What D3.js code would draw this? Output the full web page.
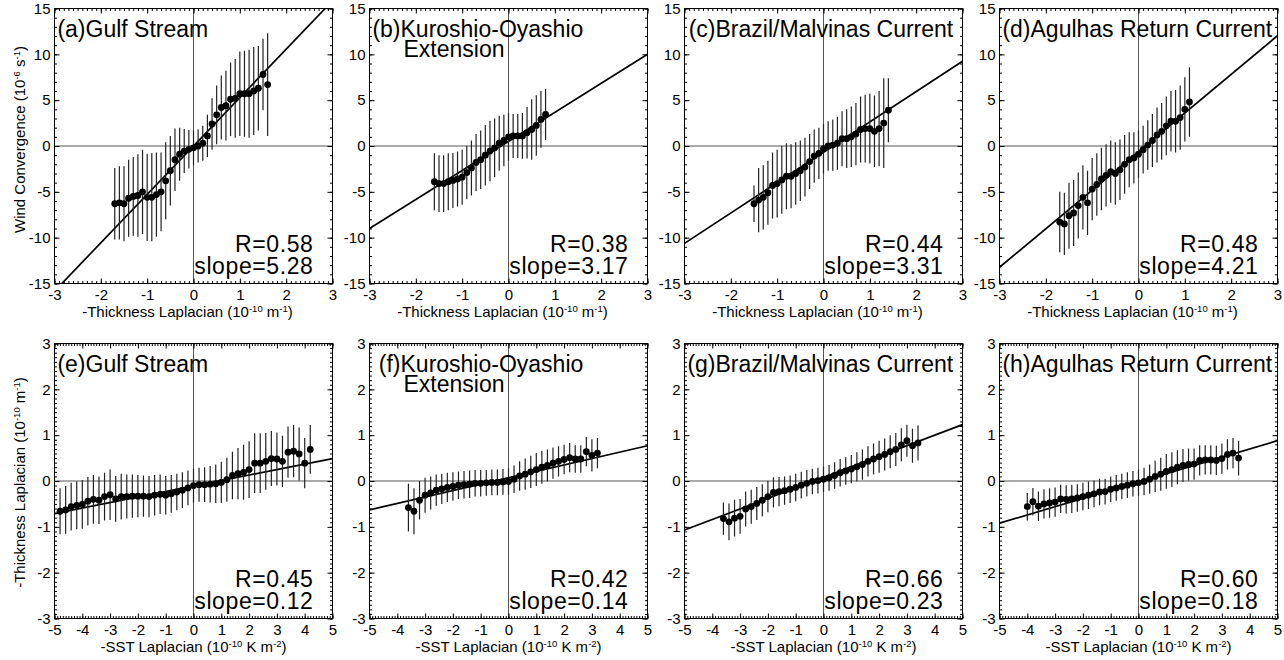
<!DOCTYPE html>
<html>
<head>
<meta charset="utf-8">
<script src="https://cdn.jsdelivr.net/npm/d3@7"></script>
<style>
  body { margin: 0; background: #fff; }
  svg text { font-family: "Liberation Sans", Arial, Helvetica, sans-serif; fill: #000; }
</style>
</head>
<body>
<svg id="chart" width="1284" height="660"></svg>
<script>
// tick labels
var xTicksTop = [-3, -2, -1, 0, 1, 2, 3];
var yTicksTop = [-15, -10, -5, 0, 5, 10, 15];
var xTicksBottom = [-5, -4, -3, -2, -1, 0, 1, 2, 3, 4, 5];
var yTicksBottom = [-3, -2, -1, 0, 1, 2, 3];

// panel text
var panelLetters = ["(a)", "(b)", "(c)", "(d)", "(e)", "(f)", "(g)", "(h)"];
var currentNames = ["Gulf Stream", "Kuroshio-Oyashio", "Brazil/Malvinas Current", "Agulhas Return Current"];
var rValues = ["0.58", "0.38", "0.44", "0.48", "0.45", "0.42", "0.66", "0.60"];
var slopeValues = ["5.28", "3.17", "3.31", "4.21", "0.12", "0.14", "0.23", "0.18"];
var fitIntercepts = [0.0, 0.5, -0.69, -0.6, -0.11, 0.07, 0.08, -0.02];

// top row: wind convergence vs -thickness laplacian
var thickA = [-1.7,-1.6,-1.5,-1.4,-1.3,-1.2,-1.1,-1.0,-0.9,-0.8,-0.7,-0.6,-0.5,-0.4,-0.3,-0.2,-0.1,0.0,0.1,0.2,0.3,0.4,0.5,0.6,0.7,0.8,0.9,1.0,1.1,1.2,1.3,1.4,1.5,1.6];
var convA = [-6.3,-6.2,-6.3,-5.7,-5.5,-5.4,-5.0,-5.6,-5.6,-5.3,-5.0,-3.8,-2.7,-1.5,-0.9,-0.55,-0.36,-0.2,0.0,0.3,1.1,2.4,3.4,4.2,4.4,5.1,5.2,5.7,5.7,5.7,6.0,6.3,7.8,6.7];
var errA = [3.9,4.0,4.1,4.2,4.3,4.5,4.6,4.75,4.8,4.6,4.3,4.2,3.8,3.4,2.9,2.4,2.1,1.9,1.8,1.9,2.3,2.8,3.2,3.5,3.8,4.0,4.3,4.6,4.7,4.8,4.8,4.6,3.9,5.6];

var thickB = [-1.6,-1.5,-1.4,-1.3,-1.2,-1.1,-1.0,-0.9,-0.8,-0.7,-0.6,-0.5,-0.4,-0.3,-0.2,-0.1,0.0,0.1,0.2,0.3,0.4,0.5,0.6,0.7,0.8];
var convB = [-3.9,-4.1,-4.1,-3.9,-3.75,-3.6,-3.4,-2.9,-2.4,-1.8,-1.5,-1.0,-0.55,-0.2,0.3,0.6,1.0,1.1,1.1,1.1,1.45,1.8,2.25,2.9,3.45];
var errB = [3.1,3.1,3.1,3.1,3.0,3.0,3.0,2.9,3.0,3.1,3.2,3.3,3.3,3.2,3.0,2.8,2.6,2.4,2.4,2.5,2.8,3.3,3.3,3.1,2.8];

var thickC = [-1.5,-1.4,-1.3,-1.2,-1.1,-1.0,-0.9,-0.8,-0.7,-0.6,-0.5,-0.4,-0.3,-0.2,-0.1,0.0,0.1,0.2,0.3,0.4,0.5,0.6,0.7,0.8,0.9,1.0,1.1,1.2,1.3,1.4];
var convC = [-6.3,-5.9,-5.6,-5.1,-4.3,-4.1,-3.7,-3.3,-3.3,-3.0,-2.7,-2.3,-1.7,-1.1,-0.8,-0.3,0.0,0.1,0.3,0.8,0.8,1.0,1.3,1.8,1.9,1.9,1.6,1.9,2.5,3.9];
var errC = [2.0,3.5,3.5,3.5,3.6,3.7,3.7,3.6,3.5,3.4,3.3,3.2,3.0,2.9,2.8,2.7,2.7,2.8,2.9,3.0,3.2,3.3,3.4,3.6,3.7,3.8,3.9,4.1,4.9,3.5];

var thickD = [-1.7,-1.6,-1.5,-1.4,-1.3,-1.2,-1.1,-1.0,-0.9,-0.8,-0.7,-0.6,-0.5,-0.4,-0.3,-0.2,-0.1,0.0,0.1,0.2,0.3,0.4,0.5,0.6,0.7,0.8,0.9,1.0,1.1];
var convD = [-8.3,-8.5,-7.6,-7.3,-6.5,-5.6,-6.2,-4.7,-4.2,-3.6,-3.2,-2.8,-3.0,-2.6,-2.0,-1.5,-1.3,-0.9,-0.4,0.1,0.6,1.2,1.6,2.2,2.7,2.7,3.1,4.0,4.8];
var errD = [3.3,3.4,3.6,3.6,3.6,3.5,3.5,3.4,3.4,3.4,3.4,3.4,3.4,3.3,3.2,3.0,2.8,2.6,2.6,2.7,2.9,3.0,3.1,3.2,3.3,3.4,3.5,3.5,3.8];

// bottom row: -thickness laplacian vs -SST laplacian
var sstE = [-4.8,-4.6,-4.4,-4.2,-4.0,-3.8,-3.6,-3.4,-3.2,-3.0,-2.8,-2.6,-2.4,-2.2,-2.0,-1.8,-1.6,-1.4,-1.2,-1.0,-0.8,-0.6,-0.4,-0.2,0.0,0.2,0.4,0.6,0.8,1.0,1.2,1.4,1.6,1.8,2.0,2.2,2.4,2.6,2.8,3.0,3.2,3.4,3.6,3.8,4.0,4.2];
var thickE = [-0.66,-0.63,-0.56,-0.53,-0.51,-0.44,-0.40,-0.42,-0.34,-0.30,-0.39,-0.34,-0.34,-0.33,-0.33,-0.33,-0.34,-0.31,-0.29,-0.31,-0.28,-0.24,-0.20,-0.15,-0.10,-0.08,-0.08,-0.07,-0.06,-0.03,0.03,0.12,0.16,0.19,0.25,0.39,0.39,0.43,0.49,0.48,0.43,0.63,0.65,0.59,0.39,0.69];
var errE = [0.50,0.52,0.52,0.52,0.53,0.53,0.53,0.52,0.52,0.55,0.50,0.50,0.48,0.47,0.46,0.45,0.45,0.44,0.43,0.42,0.41,0.40,0.39,0.38,0.37,0.37,0.38,0.40,0.42,0.45,0.48,0.52,0.56,0.60,0.62,0.65,0.65,0.62,0.60,0.58,0.56,0.56,0.57,0.58,0.55,0.53];

var sstF = [-3.6,-3.4,-3.2,-3.0,-2.8,-2.6,-2.4,-2.2,-2.0,-1.8,-1.6,-1.4,-1.2,-1.0,-0.8,-0.6,-0.4,-0.2,0.0,0.2,0.4,0.6,0.8,1.0,1.2,1.4,1.6,1.8,2.0,2.2,2.4,2.6,2.8,3.0,3.2];
var thickF = [-0.58,-0.66,-0.42,-0.31,-0.26,-0.20,-0.17,-0.14,-0.12,-0.09,-0.08,-0.07,-0.05,-0.05,-0.04,-0.03,-0.03,-0.02,-0.01,0.04,0.11,0.15,0.20,0.25,0.30,0.34,0.39,0.43,0.47,0.51,0.48,0.48,0.64,0.56,0.61];
var errF = [0.52,0.50,0.42,0.38,0.36,0.34,0.33,0.32,0.31,0.30,0.30,0.30,0.29,0.29,0.28,0.28,0.28,0.28,0.29,0.30,0.32,0.34,0.35,0.36,0.36,0.35,0.34,0.33,0.32,0.32,0.30,0.30,0.32,0.35,0.33];

var sstG = [-3.6,-3.4,-3.2,-3.0,-2.8,-2.6,-2.4,-2.2,-2.0,-1.8,-1.6,-1.4,-1.2,-1.0,-0.8,-0.6,-0.4,-0.2,0.0,0.2,0.4,0.6,0.8,1.0,1.2,1.4,1.6,1.8,2.0,2.2,2.4,2.6,2.8,3.0,3.2,3.4];
var thickG = [-0.82,-0.89,-0.81,-0.77,-0.61,-0.56,-0.49,-0.42,-0.34,-0.25,-0.23,-0.21,-0.18,-0.14,-0.09,-0.05,-0.01,0.01,0.04,0.07,0.12,0.18,0.22,0.26,0.31,0.36,0.43,0.48,0.53,0.58,0.64,0.69,0.79,0.88,0.77,0.83];
var errG = [0.35,0.40,0.40,0.38,0.38,0.37,0.36,0.35,0.34,0.33,0.32,0.31,0.30,0.30,0.29,0.29,0.28,0.28,0.28,0.28,0.29,0.30,0.30,0.31,0.32,0.33,0.33,0.34,0.35,0.35,0.36,0.36,0.36,0.35,0.37,0.38];

var sstH = [-4.0,-3.8,-3.6,-3.4,-3.2,-3.0,-2.8,-2.6,-2.4,-2.2,-2.0,-1.8,-1.6,-1.4,-1.2,-1.0,-0.8,-0.6,-0.4,-0.2,0.0,0.2,0.4,0.6,0.8,1.0,1.2,1.4,1.6,1.8,2.0,2.2,2.4,2.6,2.8,3.0,3.2,3.4,3.6];
var thickH = [-0.56,-0.45,-0.55,-0.50,-0.48,-0.46,-0.39,-0.40,-0.39,-0.37,-0.34,-0.31,-0.28,-0.24,-0.23,-0.18,-0.15,-0.12,-0.09,-0.06,-0.04,-0.01,0.04,0.10,0.15,0.21,0.25,0.30,0.34,0.36,0.37,0.45,0.46,0.46,0.45,0.49,0.58,0.61,0.50];
var errH = [0.30,0.30,0.32,0.32,0.32,0.32,0.31,0.31,0.31,0.30,0.30,0.30,0.29,0.29,0.28,0.28,0.28,0.28,0.28,0.28,0.29,0.30,0.32,0.34,0.36,0.38,0.38,0.37,0.36,0.35,0.34,0.33,0.32,0.32,0.32,0.33,0.33,0.33,0.38];

var thicknessLabel = [["-Thickness Laplacian (10", 0], ["-10", 1], [" m", 0], ["-1", 1], [")", 0]];
var windLabel = [["Wind Convergence (10", 0], ["-6", 1], [" s", 0], ["-1", 1], [")", 0]];
var sstLabel = [["-SST Laplacian (10", 0], ["-10", 1], [" K m", 0], ["-2", 1], [")", 0]];

var panels = [
  { x: thickA, y: convA, err: errA },
  { x: thickB, y: convB, err: errB },
  { x: thickC, y: convC, err: errC },
  { x: thickD, y: convD, err: errD },
  { x: sstE, y: thickE, err: errE },
  { x: sstF, y: thickF, err: errF },
  { x: sstG, y: thickG, err: errG },
  { x: sstH, y: thickH, err: errH }
];

var svg = d3.select("#chart");
var panelLeft = [54.5, 369.5, 684.5, 999.5];
var panelTop = [8.5, 343.5];
var W = 278, H = 275;

function minorValues(domain, step) {
  return d3.range(Math.round(domain[0] / step), Math.round(domain[1] / step) + 1).map(function(k){ return +(k * step).toFixed(4); });
}

function addRichText(sel, parts) {
  var prevSup = false;
  parts.forEach(function(p){
    var t = sel.append("tspan").text(p[0]);
    if (p[1]) {
      t.attr("font-size", 9.5);
      if (!prevSup) t.attr("dy", -5);
    } else if (prevSup) {
      t.attr("dy", 5);
    }
    prevSup = !!p[1];
  });
}

function callAxis(g, axis, transform, labels) {
  var a = g.append("g").attr("transform", transform).call(axis);
  a.attr("font-size", null).attr("font-family", null);
  a.select(".domain").remove();
  a.selectAll("line").attr("stroke", "#000");
  if (labels) a.selectAll("text").attr("font-size", 15);
  return a;
}

function drawPanel(i) {
  var d = panels[i];
  var row = i < 4 ? 0 : 1, col = i % 4;
  var g = svg.append("g").attr("transform", "translate(" + panelLeft[col] + "," + panelTop[row] + ")");

  var x = d3.scaleLinear().domain(row === 0 ? [-3, 3] : [-5, 5]).range([0, W]);
  var y = d3.scaleLinear().domain(row === 0 ? [-15, 15] : [-3, 3]).range([H, 0]);
  var xMajor = row === 0 ? xTicksTop : xTicksBottom;
  var yMajor = row === 0 ? yTicksTop : yTicksBottom;
  var xMinor = minorValues(x.domain(), 0.1);
  var yMinor = minorValues(y.domain(), row === 0 ? 1 : 0.1);

  var clipId = "clip" + i;
  g.append("clipPath").attr("id", clipId).append("rect").attr("width", W).attr("height", H);
  var plot = g.append("g").attr("clip-path", "url(#" + clipId + ")");

  // zero lines
  plot.append("line").attr("x1", x(0)).attr("x2", x(0)).attr("y1", 0).attr("y2", H)
    .attr("stroke", "#555").attr("stroke-width", 1);
  plot.append("line").attr("x1", 0).attr("x2", W).attr("y1", y(0)).attr("y2", y(0))
    .attr("stroke", "#555").attr("stroke-width", 1);

  // regression line
  var slope = parseFloat(slopeValues[i]), b = fitIntercepts[i];
  var xd = x.domain();
  plot.append("line")
    .attr("x1", x(xd[0])).attr("y1", y(slope * xd[0] + b))
    .attr("x2", x(xd[1])).attr("y2", y(slope * xd[1] + b))
    .attr("stroke", "#000").attr("stroke-width", 1.7);

  var pts = d.x.map(function(v, k){ return { x: v, y: d.y[k], e: d.err[k] }; });

  plot.selectAll("line.err").data(pts).enter().append("line").attr("class", "err")
    .attr("x1", function(p){ return x(p.x); }).attr("x2", function(p){ return x(p.x); })
    .attr("y1", function(p){ return y(p.y - p.e); }).attr("y2", function(p){ return y(p.y + p.e); })
    .attr("stroke", "#222").attr("stroke-width", 1.2);

  plot.selectAll("circle").data(pts).enter().append("circle")
    .attr("cx", function(p){ return x(p.x); }).attr("cy", function(p){ return y(p.y); })
    .attr("r", 3.4).attr("fill", "#000");

  // axes, ticks inward on all sides
  callAxis(g, d3.axisBottom(x).tickValues(xMinor).tickSize(-2.5).tickSizeOuter(0).tickFormat(function(){ return ""; }), "translate(0," + H + ")");
  callAxis(g, d3.axisBottom(x).tickValues(xMajor).tickSize(-5).tickSizeOuter(0).tickPadding(5.5).tickFormat(function(v){ return String(v); }), "translate(0," + H + ")", true);
  callAxis(g, d3.axisTop(x).tickValues(xMinor).tickSize(-2.5).tickSizeOuter(0).tickFormat(function(){ return ""; }), "translate(0,0)");
  callAxis(g, d3.axisTop(x).tickValues(xMajor).tickSize(-5).tickSizeOuter(0).tickFormat(function(){ return ""; }), "translate(0,0)");
  callAxis(g, d3.axisLeft(y).tickValues(yMinor).tickSize(-2.5).tickSizeOuter(0).tickFormat(function(){ return ""; }), "translate(0,0)");
  callAxis(g, d3.axisLeft(y).tickValues(yMajor).tickSize(-5).tickSizeOuter(0).tickPadding(4).tickFormat(function(v){ return String(v); }), "translate(0,0)", true);
  callAxis(g, d3.axisRight(y).tickValues(yMinor).tickSize(-2.5).tickSizeOuter(0).tickFormat(function(){ return ""; }), "translate(" + W + ",0)");
  callAxis(g, d3.axisRight(y).tickValues(yMajor).tickSize(-5).tickSizeOuter(0).tickFormat(function(){ return ""; }), "translate(" + W + ",0)");

  g.append("rect").attr("width", W).attr("height", H)
    .attr("fill", "none").attr("stroke", "#000").attr("stroke-width", 1);

  // panel title
  var name = currentNames[col];
  g.append("text").attr("x", 31).attr("y", 28).attr("text-anchor", "end")
    .attr("font-size", 23).text(panelLetters[i]);
  g.append("text").attr("x", 31).attr("y", 28).attr("font-size", 23).text(name);
  if (col === 1) {
    g.append("text").attr("x", 34).attr("y", 48).attr("font-size", 23).text("Extension");
  }

  // statistics
  g.append("text").attr("x", W - 19).attr("y", 243).attr("text-anchor", "end")
    .attr("font-size", 23).attr("letter-spacing", 0.6).text("R=" + rValues[i]);
  g.append("text").attr("x", W - 19).attr("y", 265).attr("text-anchor", "end")
    .attr("font-size", 23).attr("letter-spacing", 0.6).text("slope=" + slopeValues[i]);

  // x axis title
  var xt = g.append("text").attr("x", W / 2 - (row === 0 ? 6 : 0)).attr("y", H + 33)
    .attr("text-anchor", "middle").attr("font-size", 15);
  addRichText(xt, row === 0 ? thicknessLabel : sstLabel);

  // y axis title on first column
  if (col === 0) {
    var cy = row === 0 ? 131 : 139;
    var yt = g.append("text").attr("transform", "translate(-30," + cy + ") rotate(-90)")
      .attr("text-anchor", "middle").attr("font-size", 15);
    addRichText(yt, row === 0 ? windLabel : thicknessLabel);
  }
}

for (var i = 0; i < panels.length; i++) drawPanel(i);
</script>
</body>
</html>
